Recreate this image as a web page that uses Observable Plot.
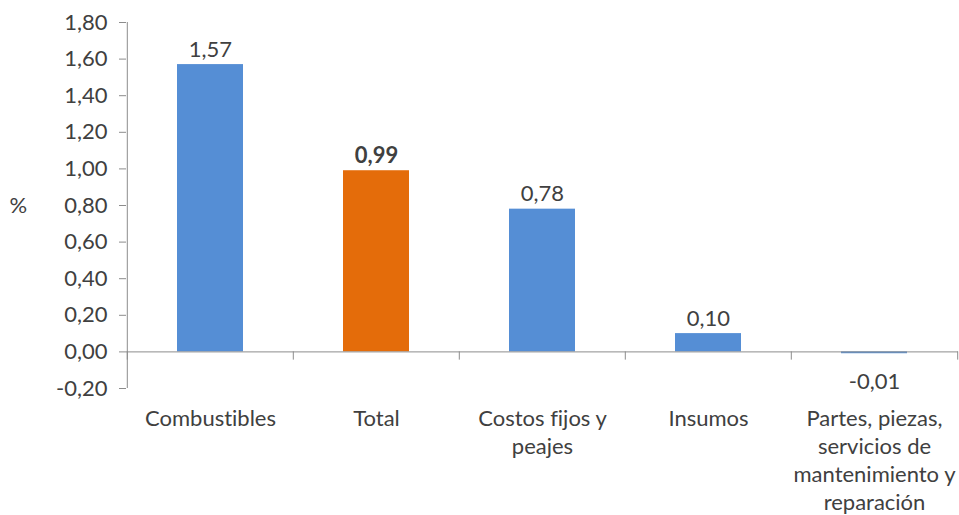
<!DOCTYPE html>
<html>
<head>
<meta charset="utf-8">
<script src="https://cdn.jsdelivr.net/npm/d3@7"></script>
<script src="https://cdn.jsdelivr.net/npm/@observablehq/plot@0.6"></script>
<style>
  html, body { margin: 0; padding: 0; background: #fff; }
  #chart svg { display: block; font-variant-ligatures: none; font-feature-settings: "liga" 0, "clig" 0; }
</style>
</head>
<body>
<div id="chart"></div>
<script>
const categories = ["Combustibles", "Total", "Costos fijos y peajes", "Insumos", "Partes, piezas, servicios de mantenimiento y reparación"];
const categoryLabels = ["Combustibles", "Total", "Costos fijos y\npeajes", "Insumos", "Partes, piezas,\nservicios de\nmantenimiento y\nreparación"];
const values = [1.57, 0.99, 0.78, 0.10, -0.01];
const valueLabels = ["1,57", "0,99", "0,78", "0,10", "-0,01"];
const highlight = [false, true, false, false, false];
const yTicks = [-0.2, 0, 0.2, 0.4, 0.6, 0.8, 1.0, 1.2, 1.4, 1.6, 1.8];
const yTickLabels = ["-0,20", "0,00", "0,20", "0,40", "0,60", "0,80", "1,00", "1,20", "1,40", "1,60", "1,80"];

const data = categories.map((c, i) => ({
  cat: c, label: categoryLabels[i], value: values[i], valueLabel: valueLabels[i], hi: highlight[i]
}));

const FONT = "Lato, sans-serif";
const FS = 22;
const TXT = "#404040";
const AX = "#8c8c8c";
const width = 959, height = 515;
const mL = 126, mR = 1;
const step = (width - mL - mR) / categories.length;

const chart = Plot.plot({
  width, height,
  marginLeft: mL, marginRight: mR, marginTop: 22, marginBottom: 127,
  style: { fontFamily: FONT, fontSize: FS + "px", color: TXT, background: "#fff" },
  x: { domain: categories, paddingInner: 0.6, paddingOuter: 0.3, axis: null },
  y: { domain: [-0.2, 1.8], axis: null },
  marks: [
    Plot.ruleX([0], { x: () => categories[0], y1: yTicks[0], y2: yTicks[yTicks.length - 1], dx: -step / 2, stroke: AX, strokeWidth: 1 }),
    Plot.axisY({ ticks: yTicks, tickFormat: d => yTickLabels[yTicks.indexOf(d)], tickSize: 7, tickPadding: 12, stroke: AX, fontSize: FS, fill: TXT, label: null }),
    Plot.barY(data, { x: "cat", y: "value", fill: d => d.hi ? "#e46c0a" : "#558ed5" }),
    Plot.ruleY([0], { stroke: AX, strokeWidth: 1 }),
    Plot.ruleX(data, { x: "cat", y1: 0, y2: -0.045, dx: -step / 2, stroke: AX }),
    Plot.ruleX(data.slice(-1), { x: "cat", y1: 0, y2: -0.045, dx: step / 2, stroke: AX }),
    Plot.text(data.filter(d => d.value >= 0 && !d.hi), { x: "cat", y: "value", text: "valueLabel", lineAnchor: "bottom", dy: -8, fontSize: FS, fill: TXT }),
    Plot.text(data.filter(d => d.value >= 0 && d.hi), { x: "cat", y: "value", text: "valueLabel", lineAnchor: "bottom", dy: -8, fontSize: FS, fill: TXT, fontWeight: "bold" }),
    Plot.text(data.filter(d => d.value < 0), { x: "cat", y: "value", text: "valueLabel", lineAnchor: "middle", dy: 28, fontSize: FS, fill: TXT }),
    Plot.text(data, { x: "cat", text: "label", frameAnchor: "bottom", lineAnchor: "top", dy: 18, fontSize: FS, fill: TXT, lineHeight: 1.27 }),
    Plot.text(["%"], { frameAnchor: "left", dx: -117, fontSize: FS, fill: TXT, textAnchor: "start", y: () => 0.8 })
  ]
});
document.getElementById("chart").appendChild(chart);
</script>
</body>
</html>
